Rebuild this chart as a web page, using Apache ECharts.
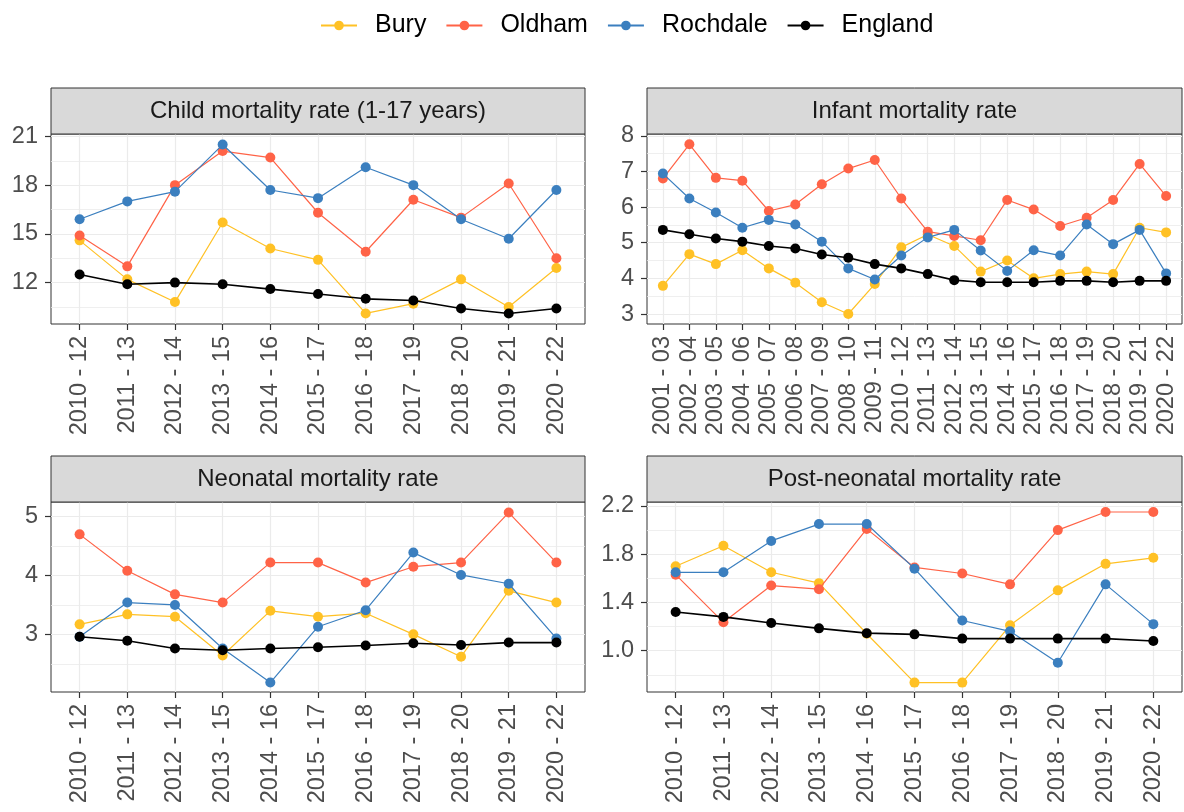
<!DOCTYPE html>
<html>
<head>
<meta charset="utf-8">
<script src="https://cdn.jsdelivr.net/npm/echarts@6/dist/echarts.min.js"></script>
<style>
html,body{margin:0;padding:0;background:#fff;}
#chart{width:1184px;height:812px;}
</style>
</head>
<body>
<div id="chart"></div>
<script>
// ---- Data ----
const seriesNames = ['Bury', 'Oldham', 'Rochdale', 'England'];
const panelTitles = ['Child mortality rate (1-17 years)', 'Infant mortality rate', 'Neonatal mortality rate', 'Post-neonatal mortality rate'];

const categories = ['2010 - 12', '2011 - 13', '2012 - 14', '2013 - 15', '2014 - 16', '2015 - 17', '2016 - 18', '2017 - 19', '2018 - 20', '2019 - 21', '2020 - 22'];
const infantCategories = ['2001 - 03', '2002 - 04', '2003 - 05', '2004 - 06', '2005 - 07', '2006 - 08', '2007 - 09', '2008 - 10', '2009 - 11', '2010 - 12', '2011 - 13', '2012 - 14', '2013 - 15', '2014 - 16', '2015 - 17', '2016 - 18', '2017 - 19', '2018 - 20', '2019 - 21', '2020 - 22'];

const childBury     = [14.6, 12.2, 10.8, 15.7, 14.1, 13.4, 10.1, 10.7, 12.2, 10.5, 12.9];
const childOldham   = [14.9, 13.0, 18.0, 20.1, 19.7, 16.3, 13.9, 17.1, 16.0, 18.1, 13.5];
const childRochdale = [15.9, 17.0, 17.6, 20.5, 17.7, 17.2, 19.1, 18.0, 15.9, 14.7, 17.7];
const childEngland  = [12.5, 11.9, 12.0, 11.9, 11.6, 11.3, 11.0, 10.9, 10.4, 10.1, 10.4];

const infantBury     = [3.79, 4.68, 4.40, 4.79, 4.28, 3.88, 3.33, 3.00, 3.84, 4.87, 5.23, 4.91, 4.19, 4.50, 4.00, 4.12, 4.19, 4.12, 5.42, 5.29];
const infantOldham   = [6.80, 7.76, 6.82, 6.74, 5.89, 6.07, 6.64, 7.08, 7.32, 6.24, 5.31, 5.19, 5.07, 6.20, 5.93, 5.47, 5.70, 6.20, 7.21, 6.31];
const infantRochdale = [6.94, 6.24, 5.85, 5.42, 5.64, 5.51, 5.03, 4.28, 3.97, 4.64, 5.15, 5.36, 4.78, 4.21, 4.79, 4.64, 5.51, 4.96, 5.36, 4.14];
const infantEngland  = [5.36, 5.24, 5.12, 5.03, 4.91, 4.84, 4.67, 4.58, 4.40, 4.28, 4.12, 3.95, 3.89, 3.89, 3.89, 3.93, 3.93, 3.89, 3.93, 3.93];

const neoBury     = [3.17, 3.34, 3.30, 2.64, 3.40, 3.30, 3.36, 3.00, 2.62, 3.74, 3.54];
const neoOldham   = [4.70, 4.08, 3.68, 3.54, 4.22, 4.22, 3.88, 4.15, 4.22, 5.07, 4.22];
const neoRochdale = [2.96, 3.54, 3.50, 2.76, 2.18, 3.13, 3.41, 4.39, 4.01, 3.86, 2.93];
const neoEngland  = [2.96, 2.89, 2.76, 2.73, 2.76, 2.78, 2.81, 2.85, 2.82, 2.86, 2.86];

const postBury     = [1.70, 1.87, 1.65, 1.56, 1.14, 0.735, 0.735, 1.21, 1.50, 1.72, 1.77];
const postOldham   = [1.63, 1.235, 1.54, 1.51, 2.01, 1.69, 1.64, 1.55, 2.00, 2.15, 2.15];
const postRochdale = [1.65, 1.65, 1.91, 2.05, 2.05, 1.68, 1.25, 1.16, 0.90, 1.55, 1.22];
const postEngland  = [1.32, 1.28, 1.23, 1.185, 1.145, 1.135, 1.10, 1.10, 1.10, 1.10, 1.08];

const childTicks = [12, 15, 18, 21];
const infantTicks = [3, 4, 5, 6, 7, 8];
const neoTicks = [3, 4, 5];
const postTicks = [1.0, 1.4, 1.8, 2.2];
const childMinor = [10.5, 13.5, 16.5, 19.5];
const infantMinor = [3.5, 4.5, 5.5, 6.5, 7.5];
const neoMinor = [2.5, 3.5, 4.5];
const postMinor = [0.8, 1.2, 1.6, 2.0];

// ---- Styling / layout ----
const colors = {Bury: '#FFC125', Oldham: '#FF6347', Rochdale: '#3B7FBF', England: '#000000'};
const FONT = 'Liberation Sans, Arial, sans-serif';
const panels = [
  {cats: categories, data: [childBury, childOldham, childRochdale, childEngland], ticks: childTicks, minor: childMinor, min: 9.45, max: 21.15, dec: 0, left: 51, top: 134, width: 534, height: 190},
  {cats: infantCategories, data: [infantBury, infantOldham, infantRochdale, infantEngland], ticks: infantTicks, minor: infantMinor, min: 2.72, max: 8.05, dec: 0, left: 647, top: 134, width: 535, height: 190},
  {cats: categories, data: [neoBury, neoOldham, neoRochdale, neoEngland], ticks: neoTicks, minor: neoMinor, min: 2.02, max: 5.25, dec: 0, left: 51, top: 502, width: 534, height: 190},
  {cats: categories, data: [postBury, postOldham, postRochdale, postEngland], ticks: postTicks, minor: postMinor, min: 0.657, max: 2.233, dec: 1, left: 647, top: 502, width: 535, height: 190}
];
const STRIP_H = 46;

const grid = [], xAxis = [], yAxis = [], series = [], graphic = [];
panels.forEach((p, pi) => {
  grid.push({left: p.left, top: p.top, width: p.width, height: p.height, show: true, borderColor: '#333333', borderWidth: 1, backgroundColor: '#ffffff', z: 0});
  const idx = p.cats.map((c, i) => i);
  xAxis.push({
    type: 'value', gridIndex: pi, min: -0.6, max: p.cats.length - 0.4, position: 'bottom',
    axisLine: {show: false, onZero: false},
    axisTick: {show: true, length: 6, customValues: idx, lineStyle: {color: '#333333', width: 1.2}},
    axisLabel: {show: true, customValues: idx, rotate: 90, margin: 12, fontSize: 23.5, color: '#4D4D4D', fontFamily: FONT,
      formatter: (v) => p.cats[Math.round(v)]},
    splitLine: {show: true, lineStyle: {color: '#EBEBEB', width: 1.2}}
  });
  // major y axis
  yAxis.push({
    type: 'value', gridIndex: pi, min: p.min, max: p.max, position: 'left',
    axisLine: {show: false, onZero: false},
    axisTick: {show: true, length: 6, customValues: p.ticks, lineStyle: {color: '#333333', width: 1.2}},
    axisLabel: {show: true, customValues: p.ticks, margin: 13, fontSize: 23.5, color: '#4D4D4D', fontFamily: FONT,
      formatter: (v) => Number(v).toFixed(p.dec)},
    splitLine: {show: true, lineStyle: {color: '#EBEBEB', width: 1.2}}
  });
  // minor grid y axis
  yAxis.push({
    type: 'value', gridIndex: pi, min: p.min, max: p.max, position: 'left',
    axisLine: {show: false, onZero: false},
    axisTick: {show: false, customValues: p.minor},
    axisLabel: {show: false},
    splitLine: {show: true, lineStyle: {color: '#EBEBEB', width: 0.8}}
  });
  seriesNames.forEach((name, si) => {
    series.push({
      type: 'line', name: name, xAxisIndex: pi, yAxisIndex: pi * 2,
      data: p.data[si].map((v, i) => [i, v]),
      symbol: 'circle', symbolSize: 10, showSymbol: true,
      lineStyle: {color: colors[name], width: name === 'England' ? 1.6 : 1.2},
      itemStyle: {color: colors[name]},
      z: 2 + si,
      emphasis: {disabled: true},
      silent: true
    });
  });
  // strip
  graphic.push({type: 'rect', shape: {x: p.left, y: p.top - STRIP_H, width: p.width, height: STRIP_H},
    style: {fill: '#D9D9D9', stroke: '#333333', lineWidth: 1}, z: 10});
  graphic.push({type: 'text', x: p.left + p.width / 2, y: p.top - STRIP_H / 2,
    style: {text: panelTitles[pi], font: '24px ' + FONT, fill: '#1A1A1A', align: 'center', verticalAlign: 'middle'}, z: 11});
});

const chart = echarts.init(document.getElementById('chart'), null, {renderer: 'canvas'});
chart.setOption({
  animation: false,
  backgroundColor: '#ffffff',
  textStyle: {fontFamily: FONT},
  legend: {
    data: seriesNames, left: 315, top: 8, itemWidth: 36, itemHeight: 12, itemGap: 19,
    lineStyle: {width: 2},
    textStyle: {fontSize: 25, color: '#000000', fontFamily: FONT, padding: [0, 0, 0, 13]},
    selectedMode: false
  },
  grid: grid, xAxis: xAxis, yAxis: yAxis, series: series, graphic: graphic
});
</script>
</body>
</html>
